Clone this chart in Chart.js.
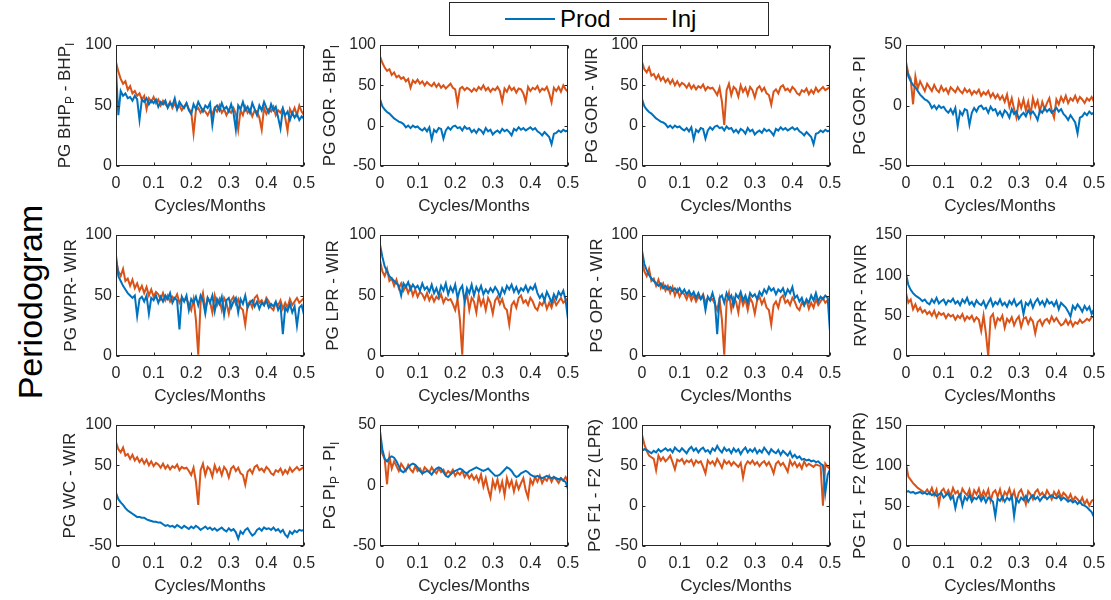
<!DOCTYPE html>
<html>
<head>
<meta charset="utf-8">
<script src="https://cdn.jsdelivr.net/npm/chart.js@4.4.1/dist/chart.umd.min.js"></script>
<style>
  body { margin: 0; background: #fff; }
  #wrap { position: relative; width: 1111px; height: 600px; overflow: hidden; font-family: 'Liberation Sans', Arial, sans-serif; }
  #wrap canvas { position: absolute; }
  #side { position: absolute; left: 30px; top: 302px; transform: translate(-50%, -50%) rotate(-90deg); font-size: 34px; white-space: nowrap; color: #000; }
  #legend { position: absolute; left: 449px; top: 2px; width: 320px; height: 34px; box-sizing: border-box; border: 1px solid #262626; background: #fff; }
  .key { position: absolute; top: 15px; width: 50px; height: 2px; }
  .lab { position: absolute; top: 1px; font-size: 24px; line-height: 30px; color: #000; }
</style>
</head>
<body>
<div id="wrap">
  <div id="side">Periodogram</div>
  <div id="legend">
    <div class="key" style="left:55px;background:#0072BD"></div><div class="lab" style="left:110px">Prod</div>
    <div class="key" style="left:169px;width:48px;background:#D95319"></div><div class="lab" style="left:221px">Inj</div>
  </div>
</div>
<script>
// frequency grid, cycles/month (0 .. 0.5)
var freq = [];
for (var i = 0; i <= 80; i++) freq.push(i / 160);

var bhpProd = [80, 42, 62, 58, 60, 56, 57, 54, 58, 55,
  38, 55, 53, 56, 51, 54, 52, 55, 49, 53,
  51, 54, 48, 52, 50, 56, 47, 53, 50, 48,
  52, 46, 43, 51, 47, 53, 49, 45, 50, 48,
  52, 34, 48, 50, 46, 52, 47, 49, 45, 51,
  44, 30, 50, 47, 53, 46, 49, 44, 52, 47,
  42, 50, 46, 53, 48, 44, 51, 46, 49, 40,
  31, 47, 42, 45, 38, 44, 40, 43, 38, 41, 39];
var bhpInj = [86, 78, 72, 68, 70, 63, 66, 60, 62, 58,
  60, 55, 58, 47, 56, 53, 57, 52, 55, 50,
  54, 51, 49, 53, 48, 52, 47, 50, 46, 49,
  52, 47, 45, 27, 46, 48, 44, 47, 45, 42,
  46, 43, 48, 45, 50, 44, 47, 42, 46, 44,
  48, 43, 30, 46, 42, 49, 44, 47, 41, 46,
  45, 40, 30, 48, 43, 47, 45, 49, 42, 46,
  44, 48, 40, 29, 47, 43, 48, 42, 50, 45, 42];
var gorProd = [33, 24, 20, 17, 15, 12, 9, 7, 5, 4,
  2, -2, 0, -3, 0, -2, -1, -4, -6, -3,
  -7, -2, -17, -5, -8, -3, -4, -16, -6, -2,
  -5, -1, 0, -3, -2, -6, -1, -4, -3, -8,
  -5, -9, -4, -6, -10, -3, -7, -5, -11, -8,
  -6, -9, -4, -7, -5, -8, -12, -4, -6, -2,
  -5, -3, -6, -4, -2, -5, -3, -7, -9, -12,
  -8, -11, -14, -23, -10, -9, -6, -8, -5, -7, -6];
var wirInj = [79, 70, 66, 72, 62, 64, 58, 63, 56, 60,
  54, 58, 52, 57, 50, 55, 49, 53, 51, 47,
  52, 46, 50, 45, 49, 47, 51, 44, 48, 46,
  47, 43, 38, 47, 30, 1, 44, 52, 38, 48,
  45, 36, 50, 42, 47, 38, 48, 44, 35, 46,
  49, 43, 47, 40, 38, 26, 42, 45, 40, 48,
  50, 44, 46, 42, 48, 45, 40, 38, 44, 42,
  46, 39, 44, 40, 47, 42, 45, 48, 44, 46, 48];
var piInj = [36, 26, 22, 1, 24, 14, 20, 16, 12, 18,
  15, 12, 17, 13, 11, 16, 12, 14, 10, 15,
  13, 11, 15, 12, 10, 14, 11, 13, 9, 12,
  10, 13, 8, 11, 9, 12, 7, 10, 6, 9,
  5, 8, 3, 9, -1, 6, -3, -10, 4, -2,
  5, -4, 3, -8, 6, -1, 4, -5, 3, -3,
  2, 6, -4, -10, 5, 1, 7, 3, 8, 2,
  6, 4, 8, 3, 7, 5, 2, 6, 4, 7, 3];
var wprProd = [83, 66, 62, 58, 55, 52, 50, 48, 50, 33,
  47, 49, 45, 50, 35, 48, 46, 50, 44, 49,
  45, 50, 47, 52, 44, 48, 46, 22, 49, 45,
  50, 38, 47, 44, 49, 42, 50, 46, 35, 48,
  44, 50, 37, 47, 43, 49, 34, 46, 48, 40,
  45, 48, 36, 47, 43, 50, 40, 44, 46, 41,
  45, 39, 44, 42, 46, 40, 43, 41, 45, 38,
  42, 18, 40, 37, 43, 36, 41, 25, 40, 42, 34];
var lprProd = [92, 82, 74, 70, 66, 64, 62, 60, 58, 50,
  60, 57, 61, 55, 59, 56, 58, 54, 60, 55,
  57, 53, 59, 52, 56, 50, 58, 54, 60, 51,
  57, 53, 59, 48, 55, 58, 45, 56, 52, 59,
  50, 57, 53, 58, 51, 55, 52, 56, 53, 57,
  54, 49, 56, 52, 58, 55, 59, 53, 57, 52,
  56, 54, 58, 53, 57, 55, 59, 52, 48, 51,
  46, 53, 49, 44, 51, 47, 53, 50, 54, 46, 30];
var oprProd = [87, 76, 71, 67, 64, 62, 60, 58, 60, 56,
  58, 55, 57, 54, 56, 53, 56, 52, 55, 51,
  54, 50, 53, 48, 52, 47, 50, 38, 49, 46,
  52, 45, 18, 48, 50, 44, 52, 47, 50, 42,
  51, 48, 53, 46, 50, 44, 52, 49, 51, 47,
  53, 50, 55, 52, 57, 54, 56, 51, 55, 53,
  56, 50, 55, 52, 57, 48, 50, 45, 48, 42,
  47, 44, 50, 46, 52, 45, 49, 47, 50, 48, 20];
var rvpProd = [102, 88, 82, 78, 75, 73, 71, 68, 70, 66,
  64, 70, 66, 72, 65, 68, 70, 64, 69, 67,
  71, 65, 68, 63, 70, 66, 72, 64, 67, 62,
  69, 65, 63, 68, 60, 66, 71, 62, 67, 64,
  70, 63, 66, 61, 68, 64, 70, 62, 65, 68,
  52, 66, 63, 69, 60, 67, 71, 64, 68, 62,
  70, 65, 67, 62, 68, 58, 66, 63, 60, 55,
  49, 62, 58, 64, 60, 55, 62, 57, 61, 52, 58];
var rvirInj = [78, 66, 70, 58, 64, 56, 60, 54, 57, 52,
  55, 50, 56, 48, 54, 51, 53, 47, 52, 49,
  51, 45, 50, 47, 52, 44, 49, 46, 50, 43,
  48, 45, 31, 50, 28, 0, 48, 52, 37, 47,
  44, 50, 35, 46, 42, 48, 38, 45, 49, 36,
  46, 48, 40, 47, 43, 28, 42, 45, 38, 44,
  46, 41, 49, 43, 47, 42, 38, 40, 45, 39,
  44, 37, 42, 40, 45, 41, 43, 46, 44, 48, 49];
var wcProd = [16, 8, 4, 1, -3, -6, -8, -10, -12, -14,
  -14, -15, -15, -17, -18, -19, -20, -20, -21, -21,
  -23, -25, -24, -26, -25, -27, -24, -26, -28, -25,
  -27, -29, -26, -28, -25, -27, -30, -28, -26, -29,
  -27, -30, -28, -31, -29, -27, -30, -32, -28, -31,
  -29, -33, -41, -32, -35, -30, -28, -33, -37, -35,
  -30, -28, -31, -27, -29, -28, -30, -27, -31, -29,
  -33, -30, -36, -39, -32, -35, -31, -33, -30, -31, -30];
var piProd = [45, 30, 22, 20, 23, 24, 23, 20, 16, 12,
  11, 13, 15, 17, 18, 17, 15, 12, 10, 11,
  12, 11, 9, 12, 14, 15, 14, 11, 8, 7,
  9, 11, 12, 13, 14, 13, 11, 10, 12, 13,
  14, 15, 14, 13, 12, 13, 14, 12, 10, 8,
  8, 9, 11, 13, 15, 14, 12, 9, 7, 8,
  10, 11, 12, 11, 9, 8, 7, 8, 7, 6,
  7, 8, 7, 6, 7, 6, 5, 6, 4, 3, -3];
var lprF1 = [68, 70, 69, 67, 65, 68, 66, 70, 67, 69,
  71, 68, 70, 66, 72, 69, 67, 71, 68, 65,
  70, 73, 68, 71, 66, 70, 72, 67, 69, 65,
  71, 68, 74, 69, 66, 72, 68, 70, 65, 71,
  67, 70, 64, 69, 72, 66, 70, 67, 71, 65,
  69, 66, 72, 68, 64, 70, 67, 65, 69, 63,
  68, 65, 62, 67, 60, 63, 59, 61, 57, 58,
  56, 57, 55, 56, 54, 55, 52, 50, 16, 38, 45];
var lprF2 = [88, 76, 68, 62, 60, 58, 44, 62, 56, 60,
  55, 58, 62, 54, 45, 57, 55, 58, 52, 56,
  54, 57, 50, 56, 53, 55, 48, 40, 56, 52,
  55, 50, 58, 53, 47, 56, 52, 55, 50, 54,
  51, 48, 53, 35, 50, 55, 52, 56, 51, 54,
  49, 53, 55, 50, 54, 48, 40, 52, 55, 50,
  53, 48, 42, 56, 50, 54, 48, 52, 46, 55,
  49, 52, 50, 48, 51, 50, 49, 0, 52, 48, 46];
var rvpF1 = [67, 68, 66, 67, 65, 66, 67, 65, 66, 64,
  66, 63, 65, 62, 64, 66, 60, 63, 65, 58,
  62, 47, 60, 64, 50, 61, 57, 63, 55, 60,
  58, 62, 56, 61, 54, 60, 58, 55, 37, 59,
  56, 61, 55, 60, 57, 62, 37, 58, 54, 60,
  57, 62, 55, 60, 63, 58, 61, 56, 60, 62,
  58, 61, 63, 60, 59, 62, 57, 60, 58, 55,
  57, 54, 56, 52, 55, 51, 50, 48, 45, 42, 36];
var rvpF2 = [102, 86, 82, 78, 75, 72, 70, 68, 66, 70,
  65, 72, 63, 70, 52, 68, 71, 64, 69, 62,
  72, 65, 68, 60, 71, 66, 63, 70, 58, 69,
  64, 71, 60, 68, 62, 70, 56, 66, 69, 61,
  70, 58, 67, 63, 71, 60, 68, 55, 66, 70,
  62, 52, 68, 64, 58, 67, 70, 63, 66, 61,
  69, 64, 58, 67, 62, 68, 60, 66, 63, 58,
  64, 56, 61, 58, 54, 60, 52, 57, 50, 56, 58];

// y-axis labels: [text, isSubscript]
var panels = [
  { title: [['PG BHP', 0], ['P', 1], [' - BHP', 0], ['I', 1]], prod: bhpProd, inj: bhpInj, min: 0, max: 100, off: 51 },
  { title: [['PG GOR - BHP', 0], ['I', 1]], prod: gorProd, inj: bhpInj, min: -50, max: 100, off: 50 },
  { title: [['PG GOR - WIR', 0]], prod: gorProd, inj: wirInj, min: -50, max: 100, off: 50 },
  { title: [['PG GOR - PI', 0]], prod: gorProd, inj: piInj, min: -50, max: 50, off: 46 },
  { title: [['PG WPR- WIR', 0]], prod: wprProd, inj: wirInj, min: 0, max: 100, off: 45 },
  { title: [['PG LPR - WIR', 0]], prod: lprProd, inj: wirInj, min: 0, max: 100, off: 47 },
  { title: [['PG OPR - WIR', 0]], prod: oprProd, inj: wirInj, min: 0, max: 100, off: 45 },
  { title: [['RVPR - RVIR', 0]], prod: rvpProd, inj: rvirInj, min: 0, max: 150, off: 45 },
  { title: [['PG WC - WIR', 0]], prod: wcProd, inj: wirInj, min: -50, max: 100, off: 46 },
  { title: [['PG PI', 0], ['P', 1], [' - PI', 0], ['I', 1]], prod: piProd, inj: piInj, min: -50, max: 50, off: 50 },
  { title: [['PG F1 - F2 (LPR)', 0]], prod: lprF1, inj: lprF2, min: -50, max: 100, off: 47 },
  { title: [['PG F1 - F2 (RVPR)', 0]], prod: rvpF1, inj: rvpF2, min: 0, max: 150, off: 46 }
];

var BLUE = '#0072BD', ORANGE = '#D95319', INK = '#262626';
var FONT = "'Liberation Sans', Arial, sans-serif";
var colLeft = [116, 380, 642, 906];
var rowTop = [45, 235, 425];
var PW = 188, PH = 121, LEFT = 70, TOP = 20, RIGHT = 14, BOTTOM = 53;

// matlab style box with inward ticks
var boxPlugin = {
  id: 'box',
  afterDraw: function(chart) {
    var ctx = chart.ctx, a = chart.chartArea;
    var l = Math.round(a.left) + 0.5, t = Math.round(a.top) + 0.5;
    var r = Math.round(a.right) - 0.5, b = Math.round(a.bottom) - 0.5;
    ctx.save();
    ctx.strokeStyle = INK;
    ctx.lineWidth = 1;
    ctx.strokeRect(l, t, r - l, b - t);
    ctx.beginPath();
    chart.scales.x.ticks.forEach(function(tk) {
      var px = Math.round(chart.scales.x.getPixelForValue(tk.value)) + 0.5;
      ctx.moveTo(px, b); ctx.lineTo(px, b - 3);
      ctx.moveTo(px, t); ctx.lineTo(px, t + 3);
    });
    chart.scales.y.ticks.forEach(function(tk) {
      var py = Math.round(chart.scales.y.getPixelForValue(tk.value)) + 0.5;
      ctx.moveTo(l, py); ctx.lineTo(l + 3, py);
      ctx.moveTo(r, py); ctx.lineTo(r - 3, py);
    });
    ctx.stroke();
    ctx.restore();
  }
};

// y label with subscripts
var yTitle = {
  id: 'yTitle',
  afterDraw: function(chart, args, opts) {
    var ctx = chart.ctx, a = chart.chartArea;
    var big = '17px ' + FONT, small = '12px ' + FONT;
    var total = 0;
    ctx.save();
    opts.parts.forEach(function(pt) {
      ctx.font = pt[1] ? small : big;
      total += ctx.measureText(pt[0]).width;
    });
    ctx.translate(a.left - opts.off, (a.top + a.bottom) / 2);
    ctx.rotate(-Math.PI / 2);
    ctx.fillStyle = INK;
    ctx.textBaseline = 'middle';
    ctx.textAlign = 'left';
    var x = -total / 2;
    opts.parts.forEach(function(pt) {
      ctx.font = pt[1] ? small : big;
      ctx.fillText(pt[0], x, pt[1] ? 6 : 0);
      x += ctx.measureText(pt[0]).width;
    });
    ctx.restore();
  }
};

function xy(arr) {
  return arr.map(function(v, i) { return { x: freq[i], y: v }; });
}

var wrap = document.getElementById('wrap');
panels.forEach(function(p, k) {
  var c = document.createElement('canvas');
  var w = LEFT + PW + RIGHT, h = TOP + PH + BOTTOM;
  c.width = w; c.height = h;
  c.style.width = w + 'px'; c.style.height = h + 'px';
  c.style.left = (colLeft[k % 4] - LEFT) + 'px';
  c.style.top = (rowTop[Math.floor(k / 4)] - TOP) + 'px';
  wrap.appendChild(c);

  new Chart(c, {
    type: 'line',
    data: {
      datasets: [
        { label: 'Prod', data: xy(p.prod), borderColor: BLUE, borderWidth: 2, pointRadius: 0, tension: 0 },
        { label: 'Inj', data: xy(p.inj), borderColor: ORANGE, borderWidth: 2, pointRadius: 0, tension: 0 }
      ]
    },
    options: {
      responsive: false,
      animation: false,
      layout: { padding: { top: TOP, right: RIGHT, left: 0, bottom: 0 } },
      plugins: {
        legend: { display: false },
        tooltip: { enabled: false },
        yTitle: { parts: p.title, off: p.off }
      },
      scales: {
        x: {
          type: 'linear', min: 0, max: 0.5,
          grid: { display: false, drawTicks: false },
          border: { display: false },
          ticks: { stepSize: 0.1, padding: 8, color: INK, font: { size: 16, family: FONT }, maxRotation: 0 },
          title: { display: true, text: 'Cycles/Months', color: INK, font: { size: 17, family: FONT }, padding: { top: 0, bottom: 2 } },
          afterFit: function(s) { s.height = BOTTOM; s.paddingLeft = 0; s.paddingRight = 0; }
        },
        y: {
          min: p.min, max: p.max,
          grid: { display: false, drawTicks: false },
          border: { display: false },
          ticks: { stepSize: 50, padding: 4, color: INK, font: { size: 16, family: FONT } },
          afterFit: function(s) { s.width = LEFT; s.paddingTop = 0; s.paddingBottom = 0; }
        }
      }
    },
    plugins: [boxPlugin, yTitle]
  });
});
</script>
</body>
</html>
